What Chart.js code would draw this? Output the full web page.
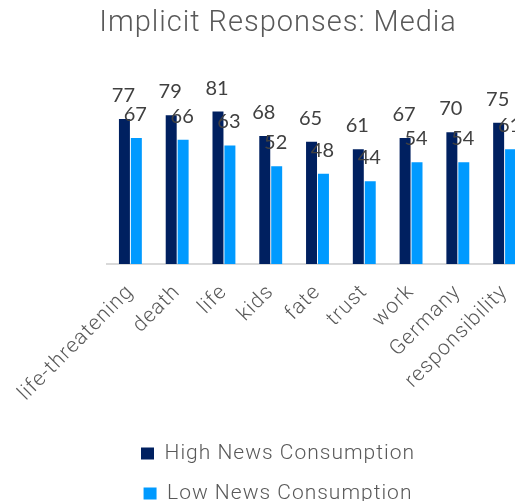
<!DOCTYPE html>
<html>
<head>
<meta charset="utf-8">
<script src="https://cdn.jsdelivr.net/npm/chart.js@4"></script>
<style>
  html, body { margin: 0; padding: 0; background: #fff; overflow: hidden; }
  #wrap { width: 556px; height: 514px; position: relative; }
</style>
</head>
<body>
<div id="wrap"><canvas id="grafico"></canvas></div>
<script>
const categorias = ['life-threatening', 'death', 'life', 'kids', 'fate', 'trust', 'work', 'Germany', 'responsibility'];
const altoConsumo = [77, 79, 81, 68, 65, 61, 67, 70, 75];
const bajoConsumo = [67, 66, 63, 52, 48, 44, 54, 54, 61];

// espaciado de letras parecido a la fuente original
const espaciado = {
    id: 'espaciado',
    beforeUpdate(chart) { chart.ctx.letterSpacing = '1px'; },
    beforeDraw(chart) { chart.ctx.letterSpacing = '1px'; }
};

const etiquetasValores = {
    id: 'etiquetasValores',
    afterDatasetsDraw(chart) {
        const ctx = chart.ctx;
        ctx.save();
        ctx.letterSpacing = '0px';
        ctx.font = '20px Lato';
        ctx.fillStyle = '#404040';
        ctx.textAlign = 'center';
        ctx.textBaseline = 'alphabetic';
        chart.data.datasets.forEach((ds, i) => {
            chart.getDatasetMeta(i).data.forEach((bar, j) => {
                ctx.fillText(ds.data[j], bar.x - 1, bar.y - 17);
            });
        });
        ctx.restore();
    }
};

new Chart(document.getElementById('grafico'), {
    type: 'bar',
    data: {
        labels: categorias,
        datasets: [
            {
                label: 'High News Consumption',
                data: altoConsumo,
                backgroundColor: '#002060'
            },
            {
                label: 'Low News Consumption',
                data: bajoConsumo,
                backgroundColor: '#009AFF'
            }
        ]
    },
    options: {
        responsive: true,
        maintainAspectRatio: false,
        animation: false,
        categoryPercentage: 0.51,
        barPercentage: 0.92,
        layout: { padding: { left: 0, right: 0, top: 6, bottom: 0 } },
        plugins: {
            title: {
                display: true,
                text: 'Implicit Responses: Media',
                color: '#595959',
                font: { family: 'Roboto', weight: 300, size: 29 },
                padding: { top: 0, bottom: 35 }
            },
            legend: {
                position: 'bottom',
                labels: {
                    color: '#595959',
                    font: { family: 'Roboto', weight: 300, size: 21 },
                    boxWidth: 13,
                    boxHeight: 12,
                    padding: 19
                }
            },
            tooltip: { enabled: false }
        },
        scales: {
            x: {
                grid: { display: false },
                border: { color: '#d9d9d9', width: 2 },
                ticks: {
                    color: '#595959',
                    font: { family: 'Roboto', weight: 300, size: 21 },
                    minRotation: 45,
                    maxRotation: 45,
                    padding: 8
                },
                afterFit(scale) {
                    scale.paddingLeft = 107;
                    scale.paddingRight = 28;
                    scale.height = 160;
                }
            },
            y: {
                display: false,
                min: 0,
                max: 100
            }
        }
    },
    plugins: [espaciado, etiquetasValores]
});
</script>
</body>
</html>
